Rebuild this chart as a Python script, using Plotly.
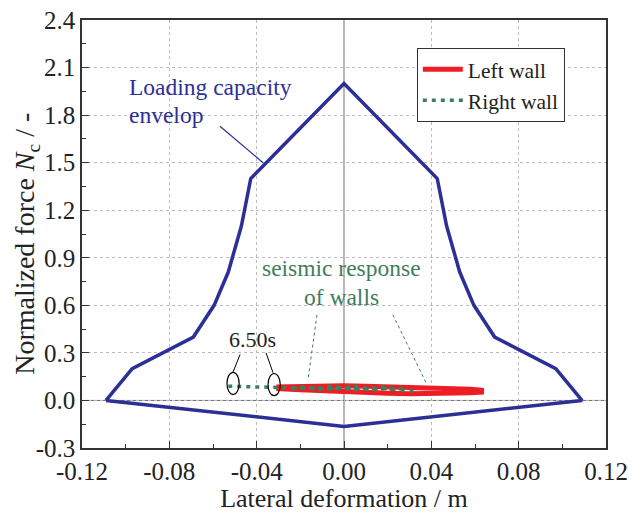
import plotly.graph_objects as go

# Loading capacity envelope
env_x = [-0.109, -0.097, -0.069, -0.0595, -0.053, -0.047, -0.0427, 0.0, 0.0427, 0.047, 0.053, 0.0595, 0.069, 0.097, 0.109, 0.0, -0.109]
env_y = [0.0, 0.2, 0.4, 0.6, 0.81, 1.1, 1.4, 2.0, 1.4, 1.1, 0.81, 0.6, 0.4, 0.2, 0.0, -0.164, 0.0]

# Left wall response (closed hysteresis band)
left_x = [-0.031, -0.02, -0.01, 0.0, 0.01, 0.02, 0.03, 0.04, 0.05, 0.058, 0.063,
          0.063, 0.058, 0.05, 0.04, 0.03, 0.02, 0.01, 0.0, -0.01, -0.02, -0.031]
left_y = [0.085, 0.09, 0.092, 0.092, 0.09, 0.087, 0.083, 0.079, 0.075, 0.07, 0.064,
          0.052, 0.048, 0.045, 0.043, 0.043, 0.046, 0.05, 0.056, 0.062, 0.068, 0.076]

# Right wall response
right_x = [-0.053, -0.045, -0.038, -0.031, -0.025, -0.018, -0.012, -0.006, 0.0, 0.006, 0.012, 0.018, 0.024, 0.028,
           0.022, 0.014, 0.006, -0.002, -0.01, -0.018, -0.025, -0.018, -0.008, 0.002, 0.012, 0.02, 0.026, 0.033]
right_y = [0.09, 0.088, 0.085, 0.083, 0.08, 0.086, 0.078, 0.09, 0.082, 0.088, 0.076, 0.086, 0.072, 0.076,
           0.07, 0.074, 0.068, 0.076, 0.07, 0.078, 0.074, 0.08, 0.074, 0.08, 0.07, 0.076, 0.066, 0.058]

x_ticks = [-0.12, -0.08, -0.04, 0.0, 0.04, 0.08, 0.12]
y_ticks = [-0.3, 0.0, 0.3, 0.6, 0.9, 1.2, 1.5, 1.8, 2.1, 2.4]

FONT = "Liberation Serif, Times New Roman, DejaVu Serif, serif"
BLUE = "#2b2f96"
RED = "#ee1c25"
GREEN = "#3f7d5c"

fig = go.Figure()
fig.add_trace(go.Scatter(x=env_x, y=env_y, mode="lines", line=dict(color=BLUE, width=3.5), showlegend=False))
fig.add_trace(go.Scatter(x=left_x, y=left_y, mode="lines", name="Left wall", line=dict(color=RED, width=5)))
fig.add_trace(go.Scatter(x=right_x, y=right_y, mode="lines", name="Right wall",
                         line=dict(color=GREEN, width=3.5, dash="4px,5px")))

shapes = [
    # zero lines
    dict(type="line", xref="x", yref="paper", x0=0, x1=0, y0=0, y1=1, line=dict(color="#6e6e6e", width=1), layer="below"),
    dict(type="line", xref="paper", yref="y", x0=0, x1=1, y0=0, y1=0, line=dict(color="#6e6e6e", width=1), layer="below"),
    # ellipses
    dict(type="circle", xref="x", yref="y", x0=-0.0536, x1=-0.048, y0=0.037, y1=0.177, line=dict(color="black", width=1.2)),
    dict(type="circle", xref="x", yref="y", x0=-0.0348, x1=-0.0292, y0=0.03, y1=0.17, line=dict(color="black", width=1.2)),
    # 6.50s leader lines
    dict(type="line", xref="x", yref="y", x0=-0.0476, y0=0.29, x1=-0.0508, y1=0.18, line=dict(color="black", width=1)),
    dict(type="line", xref="x", yref="y", x0=-0.0357, y0=0.30, x1=-0.0325, y1=0.175, line=dict(color="black", width=1)),
    # envelope leader
    dict(type="line", xref="x", yref="y", x0=-0.0568, y0=1.73, x1=-0.0371, y1=1.50, line=dict(color=BLUE, width=1.2)),
    # seismic response leaders
    dict(type="line", xref="x", yref="y", x0=-0.0124, y0=0.54, x1=-0.0165, y1=0.13, line=dict(color=GREEN, width=1, dash="dot")),
    dict(type="line", xref="x", yref="y", x0=0.0224, y0=0.54, x1=0.038, y1=0.10, line=dict(color=GREEN, width=1, dash="dot")),
]

annotations = [
    dict(x=-0.0994, y=1.975, xref="x", yref="y", text="Loading capacity", showarrow=False, xanchor="left",
         font=dict(family=FONT, size=23.5, color=BLUE)),
    dict(x=-0.0994, y=1.80, xref="x", yref="y", text="envelop", showarrow=False, xanchor="left",
         font=dict(family=FONT, size=23.5, color=BLUE)),
    dict(x=-0.001, y=0.835, xref="x", yref="y", text="seismic response", showarrow=False,
         font=dict(family=FONT, size=23.5, color=GREEN)),
    dict(x=-0.001, y=0.65, xref="x", yref="y", text="of walls", showarrow=False,
         font=dict(family=FONT, size=23.5, color=GREEN)),
    dict(x=-0.0417, y=0.385, xref="x", yref="y", text="6.50s", showarrow=False,
         font=dict(family=FONT, size=22, color="#222222")),
    # y-axis title
    dict(x=-0.105, y=0.477, xref="paper", yref="paper", text="Normalized force <i>N</i><sub>c</sub> / -",
         showarrow=False, textangle=-90, xanchor="center", yanchor="middle",
         font=dict(family=FONT, size=28, color="#222222")),
]

fig.update_layout(
    width=629, height=513,
    margin=dict(l=82, r=23, t=20, b=65, autoexpand=False),
    plot_bgcolor="white", paper_bgcolor="white",
    font=dict(family=FONT, size=25, color="#222222"),
    shapes=shapes, annotations=annotations,
    legend=dict(x=0.639, y=0.935, xanchor="left", yanchor="top", bgcolor="white",
                bordercolor="#333333", borderwidth=1, font=dict(family=FONT, size=21.5),
                tracegroupgap=0, itemwidth=40),
    xaxis=dict(range=[-0.12, 0.12], tickvals=x_ticks, ticktext=[f"{v:.2f}" for v in x_ticks],
               ticks="inside", ticklen=7, tickcolor="#333333", showline=True, linecolor="#333333", linewidth=1.5,
               mirror=True, showgrid=True, gridcolor="#bbbbbb", griddash="dot", gridwidth=1, zeroline=False,
               automargin=False,
               minor=dict(dtick=0.02, tick0=0, ticks="inside", ticklen=4, tickcolor="#333333", showgrid=False),
               title=dict(text="Lateral deformation / m", font=dict(family=FONT, size=26), standoff=2),
               tickfont=dict(family=FONT, size=25)),
    yaxis=dict(range=[-0.3, 2.4], tickvals=y_ticks, ticktext=[f"{v:.1f}" for v in y_ticks],
               ticks="inside", ticklen=7, tickcolor="#333333", showline=True, linecolor="#333333", linewidth=1.5,
               mirror=True, showgrid=True, gridcolor="#bbbbbb", griddash="dot", gridwidth=1, zeroline=False,
               automargin=False,
               minor=dict(dtick=0.15, tick0=0, ticks="inside", ticklen=4, tickcolor="#333333", showgrid=False),
               tickfont=dict(family=FONT, size=25)),
)

fig.write_html("out.html")
